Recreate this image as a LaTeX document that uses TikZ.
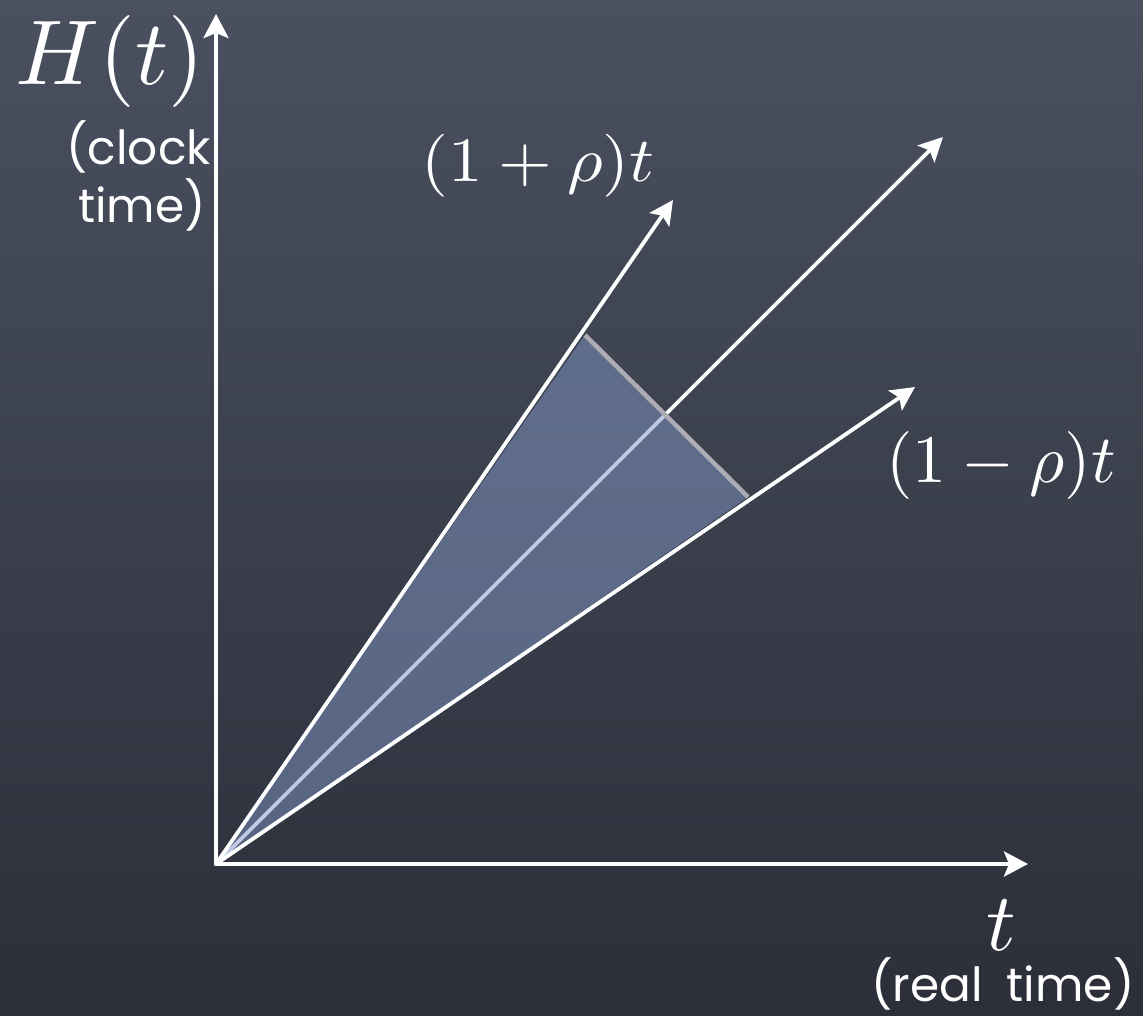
\documentclass[tikz,border=0pt]{standalone}
\usepackage{graphicx}
\usepackage{fontspec}
\newfontfamily\chalk{Poppins}
\usetikzlibrary{arrows.meta}
\definecolor{bgtop}{RGB}{74,80,96}
\definecolor{bgbot}{RGB}{44,47,57}
\definecolor{wedge}{RGB}{128,150,198}
\definecolor{edgegray}{RGB}{172,172,178}
\begin{document}
\begin{tikzpicture}[x=1pt,y=-1pt,
  arr/.style={white,line width=4pt,line cap=round,-{Stealth[length=24pt,width=25pt,inset=5pt]}},
  ray/.style={white,line width=3.8pt,line cap=round,-{Stealth[length=24pt,width=24pt,inset=5pt]}},
  mathlbl/.style={white,inner sep=0pt},
  chalklbl/.style={white,inner sep=0pt,font=\chalk\fontsize{47}{66}\selectfont}]
\shade[top color=bgtop,bottom color=bgbot] (0,0) rectangle (1143,1016);
\useasboundingbox (0,0) rectangle (1143,1016);
\coordinate (O) at (216,864);
\coordinate (Ytip) at (216,14);
\coordinate (Xtip) at (1028,864);
\coordinate (Up) at (673,200);
\coordinate (Mid) at (943,137);
\coordinate (Lo) at (915,387);
\coordinate (A) at (585,335);
\coordinate (B) at (748,497);
\draw[ray] (O) -- (Mid);
\fill[wedge,opacity=0.5] (O) -- (A) -- (B) -- cycle;
\draw[edgegray,line width=4.5pt] (A) -- (B);
\draw[ray] (O) -- (Up);
\draw[ray] (O) -- (Lo);
\draw[arr] (O) -- (Ytip);
\draw[arr] (O) -- (Xtip);
\node[mathlbl] (H) at (110,62) {\scalebox{9.2}{$H(t)$}};
\node[chalklbl,anchor=base east] (clk1) at (211,165) {(clock};
\node[chalklbl,anchor=base east] (clk2) at (206,223) {time)};
\node[mathlbl] (plus) at (538,166) {\scalebox{6.9}[6.3]{$(1+\rho)t$}};
\node[mathlbl] (minus) at (1001,465) {\scalebox{6.8}{$(1-\rho)t$}};
\node[mathlbl,anchor=base] (tl) at (1001,950) {\scalebox{8.2}{$t$}};
\node[chalklbl,anchor=base] (rt) at (1003,1001) {(real\hspace{24pt}time)};
\end{tikzpicture}
\end{document}
